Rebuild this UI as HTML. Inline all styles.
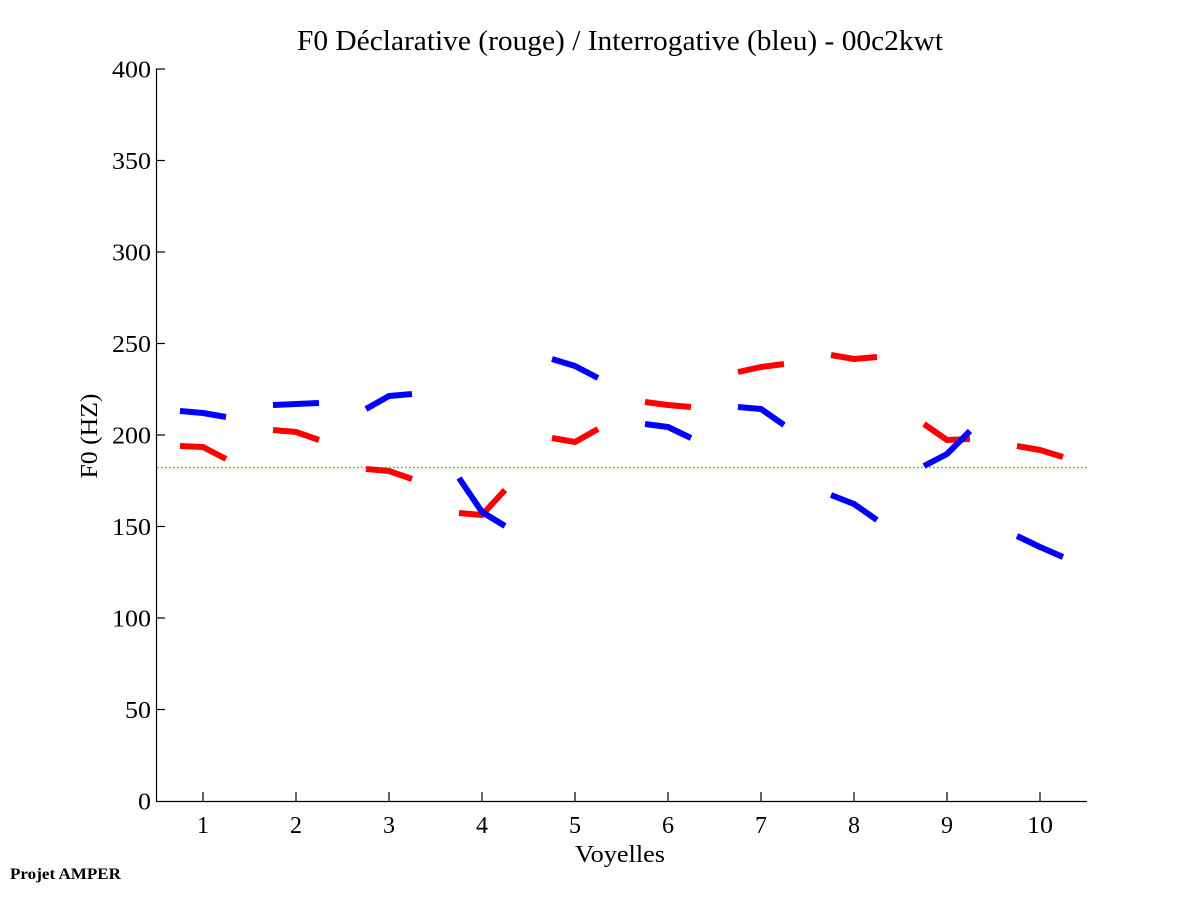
<!DOCTYPE html>
<html>
<head>
<meta charset="utf-8">
<style>
html,body{margin:0;padding:0;background:#fff;}
svg{display:block;}
text{font-family:"Liberation Serif","Times New Roman",serif;fill:#000;}
</style>
</head>
<body>
<svg width="1201" height="901" viewBox="0 0 1201 901" xmlns="http://www.w3.org/2000/svg">
<rect x="0" y="0" width="1201" height="901" fill="#fff"/>

<!-- title -->
<text x="297" y="50" font-size="28" textLength="646" lengthAdjust="spacingAndGlyphs">F0 Déclarative (rouge) / Interrogative (bleu) - 00c2kwt</text>

<!-- axes -->
<g stroke="#000" stroke-width="1.2" fill="none">
<line x1="156.5" y1="68.5" x2="156.5" y2="801.5"/>
<line x1="156.5" y1="801.5" x2="1087" y2="801.5"/>
<!-- y ticks -->
<line x1="156.5" y1="69" x2="165" y2="69"/>
<line x1="156.5" y1="160.5" x2="165" y2="160.5"/>
<line x1="156.5" y1="252" x2="165" y2="252"/>
<line x1="156.5" y1="343.5" x2="165" y2="343.5"/>
<line x1="156.5" y1="435" x2="165" y2="435"/>
<line x1="156.5" y1="526.5" x2="165" y2="526.5"/>
<line x1="156.5" y1="618" x2="165" y2="618"/>
<line x1="156.5" y1="709.5" x2="165" y2="709.5"/>
<!-- x ticks -->
<line x1="203" y1="801.5" x2="203" y2="792"/>
<line x1="296" y1="801.5" x2="296" y2="792"/>
<line x1="389" y1="801.5" x2="389" y2="792"/>
<line x1="482" y1="801.5" x2="482" y2="792"/>
<line x1="575" y1="801.5" x2="575" y2="792"/>
<line x1="668" y1="801.5" x2="668" y2="792"/>
<line x1="761" y1="801.5" x2="761" y2="792"/>
<line x1="854" y1="801.5" x2="854" y2="792"/>
<line x1="947" y1="801.5" x2="947" y2="792"/>
<line x1="1040" y1="801.5" x2="1040" y2="792"/>
</g>

<!-- y tick labels -->
<g font-size="24" text-anchor="end">
<text x="151" y="77.5" textLength="39" lengthAdjust="spacingAndGlyphs">400</text>
<text x="151" y="169" textLength="39" lengthAdjust="spacingAndGlyphs">350</text>
<text x="151" y="260.5" textLength="39" lengthAdjust="spacingAndGlyphs">300</text>
<text x="151" y="352" textLength="39" lengthAdjust="spacingAndGlyphs">250</text>
<text x="151" y="443.5" textLength="39" lengthAdjust="spacingAndGlyphs">200</text>
<text x="151" y="535" textLength="39" lengthAdjust="spacingAndGlyphs">150</text>
<text x="151" y="626.5" textLength="39" lengthAdjust="spacingAndGlyphs">100</text>
<text x="151" y="718" textLength="26" lengthAdjust="spacingAndGlyphs">50</text>
<text x="151" y="809.5" textLength="13" lengthAdjust="spacingAndGlyphs">0</text>
</g>

<!-- x tick labels -->
<g font-size="24" text-anchor="middle">
<text x="203" y="833">1</text>
<text x="296" y="833">2</text>
<text x="389" y="833">3</text>
<text x="482" y="833">4</text>
<text x="575" y="833">5</text>
<text x="668" y="833">6</text>
<text x="761" y="833">7</text>
<text x="854" y="833">8</text>
<text x="947" y="833">9</text>
<text x="1040" y="833" textLength="26" lengthAdjust="spacingAndGlyphs">10</text>
</g>

<!-- axis labels -->
<text x="575" y="862" font-size="24" textLength="90" lengthAdjust="spacingAndGlyphs">Voyelles</text>
<text transform="translate(97,436) rotate(-90)" font-size="24" text-anchor="middle" textLength="85" lengthAdjust="spacingAndGlyphs">F0 (HZ)</text>

<!-- footer -->
<text x="10" y="879" font-size="16" font-weight="bold" textLength="111" lengthAdjust="spacingAndGlyphs">Projet AMPER</text>

<!-- green reference line -->
<line x1="157" y1="467.5" x2="1087" y2="467.5" stroke="#20d020" stroke-width="1.6" stroke-dasharray="1.6 2.4"/>

<!-- red series -->
<g stroke="#ff0000" stroke-width="6" fill="none" stroke-linejoin="round" stroke-linecap="butt">
<polyline points="180,446 203,447 226,459"/>
<polyline points="273,430 296,432 319,440"/>
<polyline points="366,469 389,471 412,479"/>
<polyline points="459,513 482,515 505,490"/>
<polyline points="552,438 575,442 598,429"/>
<polyline points="645,402 668,405 691,407"/>
<polyline points="738,372 761,367 784,364"/>
<polyline points="831,355 854,359 877,357"/>
<polyline points="924,424 947,440 970,439"/>
<polyline points="1017,446 1040,450 1063,457"/>
</g>

<!-- blue series -->
<g stroke="#0000ff" stroke-width="6" fill="none" stroke-linejoin="round" stroke-linecap="butt">
<polyline points="180,411 203,413 226,417"/>
<polyline points="273,405 296,404 319,403"/>
<polyline points="366,409 389,396 412,394"/>
<polyline points="459,478 482,512 505,526"/>
<polyline points="552,359 575,366 598,378"/>
<polyline points="645,424 668,427 691,438"/>
<polyline points="738,407 761,409 784,425"/>
<polyline points="831,495 854,504 877,520"/>
<polyline points="924,466 947,454 970,431"/>
<polyline points="1017,536 1040,547 1063,557"/>
</g>
</svg>
</body>
</html>
